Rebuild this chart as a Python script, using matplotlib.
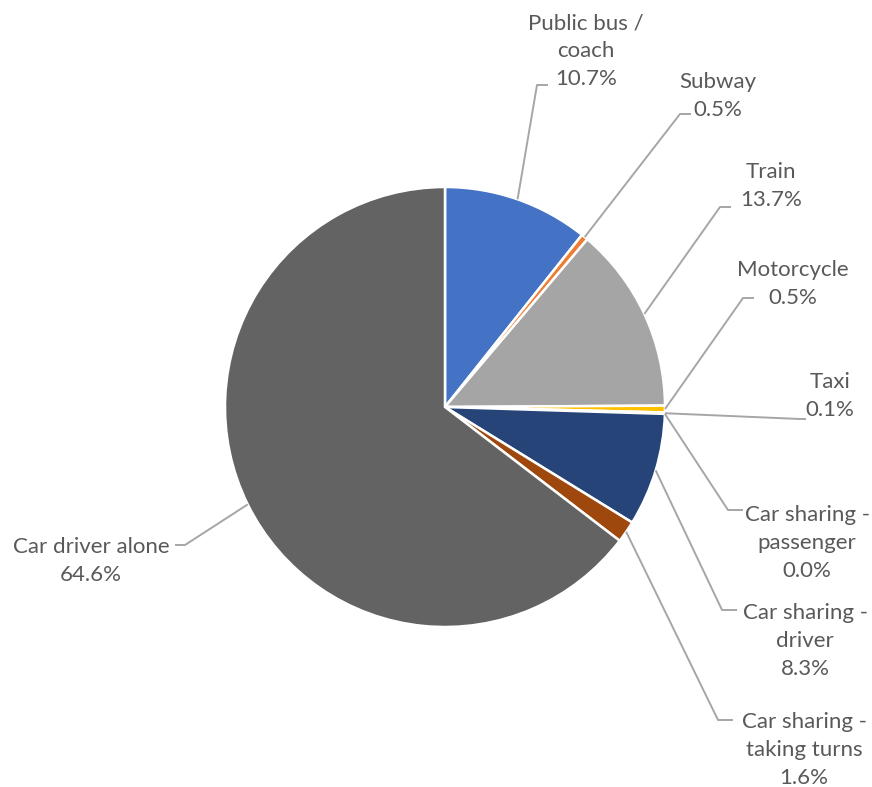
import numpy as np
import matplotlib
matplotlib.use('Agg')
import matplotlib.pyplot as plt

# data
modes = ['Public bus /\ncoach', 'Subway', 'Train', 'Motorcycle', 'Taxi',
         'Car sharing -\npassenger', 'Car sharing -\ndriver',
         'Car sharing -\ntaking turns', 'Car driver alone']
shares = [10.7, 0.5, 13.7, 0.5, 0.1, 0.0, 8.3, 1.6, 64.6]
colours = ['#4472C4', '#ED7D31', '#A5A5A5', '#FFC000', '#5B9BD5',
           '#70AD47', '#264478', '#9E480E', '#636363']

W, H = 872, 787
CX, CY, R = 445, 407, 220

# label layout in pixel coords: text centre, elbow point, end of leader
layout = [
    ((586, 51), (537, 85), (548, 85)),
    ((718, 96), (680, 114), (691, 114)),
    ((771, 186), (720, 207), (731, 207)),
    ((793, 284), (743, 298), (754, 298)),
    ((830, 396), (800, 419), (806, 419)),
    ((807, 543), (728, 510), (743, 510)),
    ((805, 641), (722, 610), (737, 610)),
    ((804, 750), (718, 720), (733, 720)),
    ((91, 561), (185, 545), (175, 545)),
]

plt.rcParams['font.family'] = ['Lato', 'DejaVu Sans']
fig = plt.figure(figsize=(W / 100, H / 100), dpi=100)
ax = fig.add_axes([0, 0, 1, 1])

wedges, _ = ax.pie(shares, colors=colours, startangle=90, counterclock=False,
                   center=(CX, H - CY), radius=R,
                   wedgeprops={'edgecolor': 'white', 'linewidth': 1.8})
ax.set_xlim(0, W)
ax.set_ylim(0, H)
ax.set_aspect('equal')
ax.axis('off')

for w, name, share, (txt, elbow, end) in zip(wedges, modes, shares, layout):
    mid = np.deg2rad((w.theta1 + w.theta2) / 2)
    sx = CX + R * np.cos(mid)
    sy = (H - CY) + R * np.sin(mid)
    ax.plot([sx, elbow[0], end[0]], [sy, H - elbow[1], H - end[1]],
            color='#A6A6A6', lw=1.4, solid_capstyle='butt')
    ax.text(txt[0], H - txt[1], name + '\n' + f'{share:.1f}%',
            ha='center', va='center', fontsize=16, color='#595959',
            linespacing=1.5)

fig.savefig('out.png', dpi=100)
